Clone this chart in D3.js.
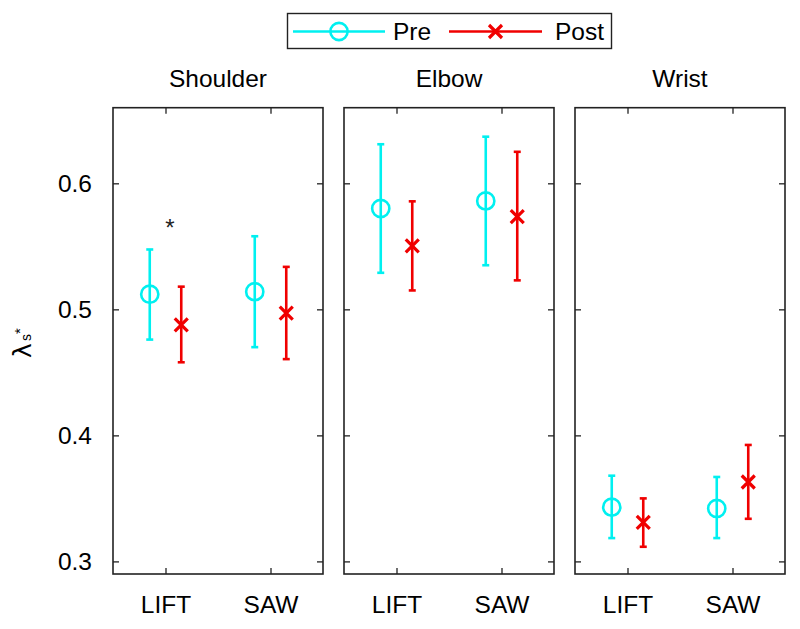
<!DOCTYPE html>
<html><head><meta charset="utf-8">
<script src="https://cdn.jsdelivr.net/npm/d3@7"></script>
<style>body{margin:0;background:#fff}svg{display:block;font-family:"Liberation Sans",Arial,sans-serif}</style>
</head><body><svg id="c" width="800" height="629"></svg>
<script>
const joints = ["Shoulder", "Elbow", "Wrist"];
const categories = ["LIFT", "SAW"];
const yTicks = [0.3, 0.4, 0.5, 0.6];
// Pre
const preMean = [[0.512, 0.514], [0.580, 0.586], [0.343, 0.342]];
const preLow  = [[0.476, 0.470], [0.529, 0.535], [0.3185, 0.3185]];
const preHigh = [[0.5475, 0.558], [0.631, 0.637], [0.368, 0.367]];
// Post
const postMean = [[0.4876, 0.497], [0.5504, 0.5736], [0.331, 0.363]];
const postLow  = [[0.458, 0.4605], [0.515, 0.523], [0.3116, 0.3338]];
const postHigh = [[0.518, 0.5337], [0.5857, 0.625], [0.350, 0.3924]];
const sigMarks = [{joint: "Shoulder", cat: "LIFT", y: 0.569}];

const cyan = "#00f0f0", red = "#f00000";
const svg = d3.select("#c");
const panelLeft = [113, 344, 575], panelW = 210, plotTop = 107.7, plotBottom = 574;
const y = d3.scaleLinear().domain([0.29, 0.66]).range([plotBottom, plotTop]);
const x = d3.scaleLinear().domain([0.5, 2.5]).range([0, panelW]);
const off = 0.15, capW = 3.5;

const series = [
  {name: "Pre", color: cyan, mean: preMean, lo: preLow, hi: preHigh, dx: -off, marker: "o"},
  {name: "Post", color: red, mean: postMean, lo: postLow, hi: postHigh, dx: off, marker: "x"}
];

function drawMarker(g, type, cx, cy, color) {
  if (type === "o") {
    g.append("circle").attr("cx", cx).attr("cy", cy).attr("r", 8.6)
      .attr("fill", "none").attr("stroke", color).attr("stroke-width", 2.6);
  } else {
    const s = 6.5;
    g.append("path").attr("d", `M${cx-s},${cy-s}L${cx+s},${cy+s}M${cx-s},${cy+s}L${cx+s},${cy-s}`)
      .attr("stroke", color).attr("stroke-width", 3.2).attr("fill", "none");
  }
}

joints.forEach((j, ji) => {
  const g = svg.append("g").attr("transform", `translate(${panelLeft[ji]},0)`);
  const ax = d3.axisLeft(y).tickValues(yTicks).tickFormat(d3.format(".1f")).tickSizeInner(-6).tickSizeOuter(0).tickPadding(21);
  const axL = g.append("g").call(ax);
  if (ji > 0) axL.selectAll("text").remove();
  const axR = g.append("g").attr("transform", `translate(${panelW},0)`)
    .call(d3.axisRight(y).tickValues(yTicks).tickSizeInner(-6).tickSizeOuter(0).tickFormat(""));
  const axB = g.append("g").attr("transform", `translate(0,${plotBottom})`)
    .call(d3.axisBottom(x).tickValues([1, 2]).tickFormat((d) => categories[d-1]).tickSizeInner(-6).tickSizeOuter(0).tickPadding(22));
  const axT = g.append("g").attr("transform", `translate(0,${plotTop})`)
    .call(d3.axisTop(x).tickValues([1, 2]).tickFormat("").tickSizeInner(-6).tickSizeOuter(0));
  [axL, axR, axB, axT].forEach(a => {
    a.select(".domain").remove();
    a.selectAll("line").attr("stroke", "#222").attr("stroke-width", 1.3);
    a.selectAll("text").attr("font-size", 24.5).attr("fill", "#000").attr("font-family", '"Liberation Sans",Arial,sans-serif');
  });
  g.append("rect").attr("x", 0).attr("y", plotTop).attr("width", panelW).attr("height", plotBottom - plotTop)
    .attr("fill", "none").attr("stroke", "#222").attr("stroke-width", 1.6);
  g.append("text").attr("x", panelW / 2).attr("y", 87).attr("text-anchor", "middle")
    .attr("font-size", 24.5).text(j);

  series.forEach(s => {
    categories.forEach((c, ci) => {
      const cx = x(ci + 1 + s.dx);
      g.append("line").attr("x1", cx).attr("x2", cx).attr("y1", y(s.lo[ji][ci])).attr("y2", y(s.hi[ji][ci]))
        .attr("stroke", s.color).attr("stroke-width", 2.6);
      [s.lo[ji][ci], s.hi[ji][ci]].forEach(v => {
        g.append("line").attr("x1", cx - capW).attr("x2", cx + capW).attr("y1", y(v)).attr("y2", y(v))
          .attr("stroke", s.color).attr("stroke-width", 2.6);
      });
      drawMarker(g, s.marker, cx, y(s.mean[ji][ci]), s.color);
    });
  });

  sigMarks.filter(m => m.joint === j).forEach(m => {
    g.append("text").attr("x", x(categories.indexOf(m.cat) + 1) + 4.5).attr("y", y(m.y) + 14)
      .attr("text-anchor", "middle").attr("font-size", 24).attr("fill", "#222").text("*");
  });
});

// y label
const yl = svg.append("g").attr("transform", "translate(30.5,358) rotate(-90)");
yl.append("text").attr("x", 0).attr("y", 0).attr("font-size", 25).attr("font-family", '"DejaVu Sans",sans-serif').text("λ");
yl.append("text").attr("x", 17).attr("y", 0).attr("font-size", 14).text("s");
yl.append("text").attr("x", 24).attr("y", -6).attr("font-size", 15).text("*");

// legend
const lg = svg.append("g");
lg.append("rect").attr("x", 287.5).attr("y", 13.5).attr("width", 324).attr("height", 35)
  .attr("fill", "#fff").attr("stroke", "#222").attr("stroke-width", 1.4);
const legendItems = [
  {s: series[0], x1: 293, x2: 385, tx: 393},
  {s: series[1], x1: 449, x2: 542, tx: 555}
];
legendItems.forEach(it => {
  lg.append("line").attr("x1", it.x1).attr("x2", it.x2).attr("y1", 31.5).attr("y2", 31.5)
    .attr("stroke", it.s.color).attr("stroke-width", 2.6);
  drawMarker(lg, it.s.marker, (it.x1 + it.x2) / 2, 31.5, it.s.color);
  lg.append("text").attr("x", it.tx).attr("y", 39.5).attr("font-size", 24.5).text(it.s.name);
});
</script></body></html>
